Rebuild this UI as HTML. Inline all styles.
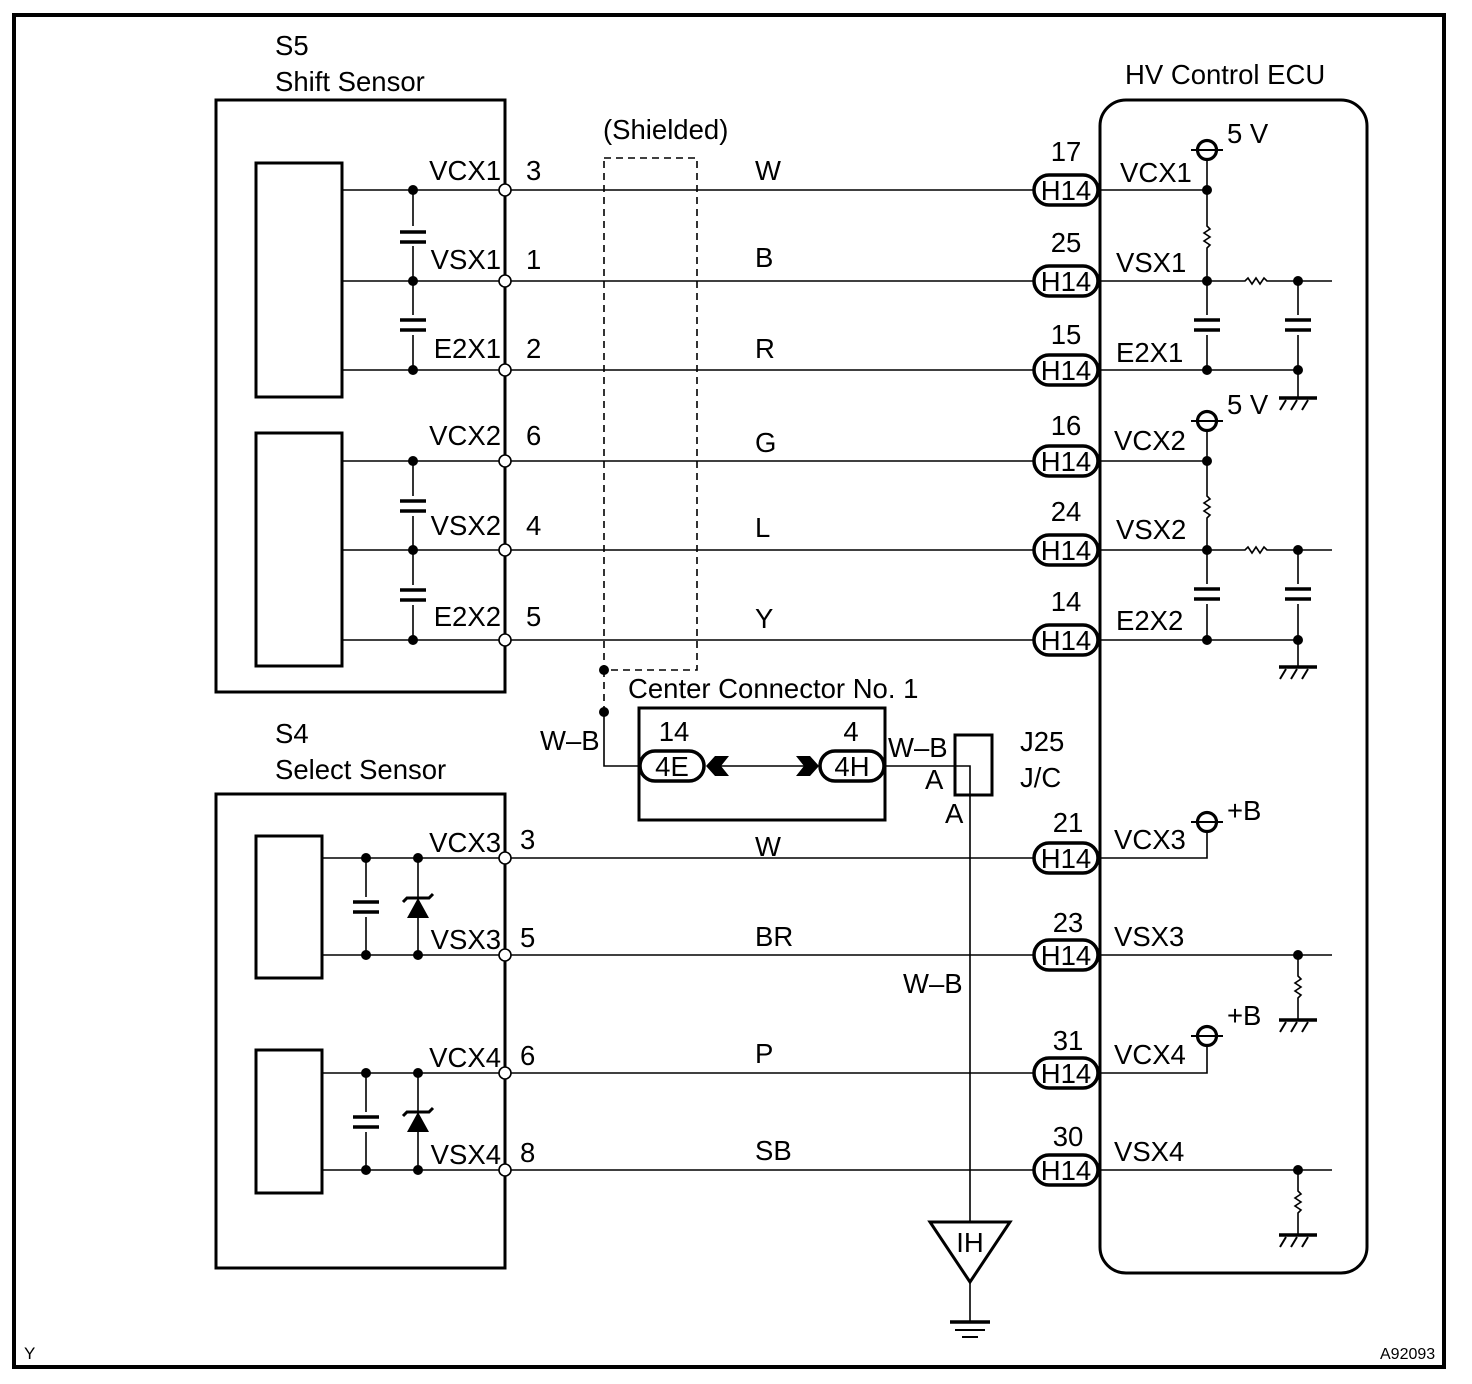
<!DOCTYPE html>
<html><head><meta charset="utf-8"><style>
html,body{margin:0;padding:0;background:#fff}
svg{display:block}
text{font-family:"Liberation Sans",Arial,sans-serif;font-size:27.5px;fill:#000}
</style></head><body>
<svg width="1472" height="1384" viewBox="0 0 1472 1384" xmlns="http://www.w3.org/2000/svg">
<defs>
<g id="pill"><rect x="-32" y="-15" width="64" height="30" rx="15" fill="#fff" stroke="#000" stroke-width="3.5"/></g>
<g id="capv" stroke="#000"><line x1="-13" y1="-5" x2="13" y2="-5" stroke-width="3.5"/><line x1="-13" y1="5" x2="13" y2="5" stroke-width="3.5"/></g>
<g id="gnd" stroke="#000" fill="none"><line x1="-19" y1="0" x2="19" y2="0" stroke-width="3.5"/><line x1="-12" y1="2" x2="-18" y2="12" stroke-width="2"/><line x1="-1" y1="2" x2="-7" y2="12" stroke-width="2"/><line x1="10" y1="2" x2="4" y2="12" stroke-width="2"/></g>
<g id="resv" fill="none" stroke="#000" stroke-width="1.6"><polyline points="0,-15 0,-11 3,-8 -3,-4 3,0 -3,4 3,8 0,11 0,15"/></g>
<g id="resh" fill="none" stroke="#000" stroke-width="1.6"><polyline points="-15,0 -10,0 -7,-3 -3,3 1,-3 5,3 9,-3 12,0 15,0"/></g>
<g id="src" fill="#fff" stroke="#000"><line x1="-16" y1="0" x2="16" y2="0" stroke-width="2"/><circle r="9.5" fill="none" stroke-width="3.2"/></g>
<g id="zen" stroke="#000"><polygon points="0,-10 -11,10 11,10" fill="#000" stroke="none"/><polyline points="-15,-6 -11,-10 11,-10 15,-14" fill="none" stroke-width="3"/></g>
</defs>

<rect x="14" y="15" width="1430" height="1352" fill="none" stroke="#000" stroke-width="4"/>

<rect x="216" y="100" width="289" height="592" fill="none" stroke="#000" stroke-width="3"/>
<rect x="256" y="163" width="86" height="234" fill="none" stroke="#000" stroke-width="3"/>
<rect x="256" y="433" width="86" height="233" fill="none" stroke="#000" stroke-width="3"/>
<rect x="216" y="794" width="289" height="474" fill="none" stroke="#000" stroke-width="3"/>
<rect x="256" y="836" width="66" height="142" fill="none" stroke="#000" stroke-width="3"/>
<rect x="256" y="1050" width="66" height="143" fill="none" stroke="#000" stroke-width="3"/>
<rect x="1100" y="100" width="267" height="1173" rx="26" fill="none" stroke="#000" stroke-width="3"/>

<g stroke="#000" stroke-width="1.6" fill="none">
<line x1="342" y1="190" x2="1033" y2="190"/>
<line x1="342" y1="281" x2="1033" y2="281"/>
<line x1="342" y1="370" x2="1033" y2="370"/>
<line x1="342" y1="461" x2="1033" y2="461"/>
<line x1="342" y1="550" x2="1033" y2="550"/>
<line x1="342" y1="640" x2="1033" y2="640"/>
<line x1="322" y1="858" x2="1033" y2="858"/>
<line x1="322" y1="955" x2="1033" y2="955"/>
<line x1="322" y1="1073" x2="1033" y2="1073"/>
<line x1="322" y1="1170" x2="1033" y2="1170"/>
<line x1="413" y1="190" x2="413" y2="370"/>
<line x1="413" y1="461" x2="413" y2="640"/>
<line x1="366" y1="858" x2="366" y2="955"/>
<line x1="418" y1="858" x2="418" y2="955"/>
<line x1="366" y1="1073" x2="366" y2="1170"/>
<line x1="418" y1="1073" x2="418" y2="1170"/>
<line x1="1100" y1="190" x2="1207" y2="190"/>
<line x1="1100" y1="281" x2="1332" y2="281"/>
<line x1="1100" y1="370" x2="1298" y2="370"/>
<line x1="1100" y1="461" x2="1207" y2="461"/>
<line x1="1100" y1="550" x2="1332" y2="550"/>
<line x1="1100" y1="640" x2="1298" y2="640"/>
<line x1="1207" y1="158" x2="1207" y2="370"/>
<line x1="1207" y1="429" x2="1207" y2="640"/>
<line x1="1298" y1="281" x2="1298" y2="398"/>
<line x1="1298" y1="550" x2="1298" y2="667"/>
<polyline points="1100,858 1207,858 1207,830"/>
<line x1="1100" y1="955" x2="1332" y2="955"/>
<line x1="1298" y1="955" x2="1298" y2="1020"/>
<polyline points="1100,1073 1207,1073 1207,1044"/>
<line x1="1100" y1="1170" x2="1332" y2="1170"/>
<line x1="1298" y1="1170" x2="1298" y2="1235"/>
<rect x="604" y="158" width="93" height="512" stroke-dasharray="7,5"/>
<line x1="604" y1="670" x2="604" y2="712" stroke-dasharray="7,5"/>
<polyline points="604,712 604,766 640,766"/>
<line x1="720" y1="766" x2="805" y2="766"/>
<polyline points="885,766 970,766 970,1222"/>
<line x1="970" y1="1282" x2="970" y2="1322"/>
</g>

<g fill="#fff" stroke="none">
<rect x="400" y="226" width="26" height="20"/><rect x="400" y="315" width="26" height="20"/>
<rect x="400" y="496" width="26" height="20"/><rect x="400" y="585" width="26" height="20"/>
<rect x="353" y="897" width="26" height="20"/><rect x="353" y="1112" width="26" height="20"/>
<rect x="1194" y="315" width="26" height="20"/><rect x="1285" y="315" width="26" height="20"/>
<rect x="1194" y="584" width="26" height="20"/><rect x="1285" y="584" width="26" height="20"/>
<rect x="1200" y="222" width="14" height="30"/><rect x="1200" y="492" width="14" height="30"/>
<rect x="1240" y="274" width="30" height="14"/><rect x="1240" y="543" width="30" height="14"/>
<rect x="1291" y="972" width="14" height="30"/><rect x="1291" y="1187" width="14" height="30"/>
</g>
<use href="#capv" x="413" y="237"/><use href="#capv" x="413" y="325"/>
<use href="#capv" x="413" y="506"/><use href="#capv" x="413" y="595"/>
<use href="#capv" x="366" y="907"/><use href="#capv" x="366" y="1122"/>
<use href="#zen" x="418" y="908"/><use href="#zen" x="418" y="1122"/>
<use href="#capv" x="1207" y="325"/><use href="#capv" x="1298" y="325"/>
<use href="#capv" x="1207" y="594"/><use href="#capv" x="1298" y="594"/>
<use href="#resv" x="1207" y="237"/><use href="#resv" x="1207" y="507"/>
<use href="#resh" x="1255" y="281"/><use href="#resh" x="1255" y="550"/>
<use href="#resv" x="1298" y="987"/><use href="#resv" x="1298" y="1202"/>
<use href="#gnd" x="1298" y="398"/><use href="#gnd" x="1298" y="667"/>
<use href="#gnd" x="1298" y="1020"/><use href="#gnd" x="1298" y="1235"/>
<use href="#src" x="1207" y="150"/><use href="#src" x="1207" y="421"/>
<use href="#src" x="1207" y="822"/><use href="#src" x="1207" y="1036"/>

<g fill="#000">
<circle cx="413" cy="190" r="5"/><circle cx="413" cy="281" r="5"/><circle cx="413" cy="370" r="5"/>
<circle cx="413" cy="461" r="5"/><circle cx="413" cy="550" r="5"/><circle cx="413" cy="640" r="5"/>
<circle cx="366" cy="858" r="5"/><circle cx="418" cy="858" r="5"/><circle cx="366" cy="955" r="5"/><circle cx="418" cy="955" r="5"/>
<circle cx="366" cy="1073" r="5"/><circle cx="418" cy="1073" r="5"/><circle cx="366" cy="1170" r="5"/><circle cx="418" cy="1170" r="5"/>
<circle cx="1207" cy="190" r="5"/><circle cx="1207" cy="281" r="5"/><circle cx="1207" cy="370" r="5"/>
<circle cx="1298" cy="281" r="5"/><circle cx="1298" cy="370" r="5"/>
<circle cx="1207" cy="461" r="5"/><circle cx="1207" cy="550" r="5"/><circle cx="1207" cy="640" r="5"/>
<circle cx="1298" cy="550" r="5"/><circle cx="1298" cy="640" r="5"/>
<circle cx="1298" cy="955" r="5"/><circle cx="1298" cy="1170" r="5"/>
<circle cx="604" cy="670" r="5"/><circle cx="604" cy="712" r="5"/>
</g>
<g fill="#fff" stroke="#000" stroke-width="1.6">
<circle cx="505" cy="190" r="6"/><circle cx="505" cy="281" r="6"/><circle cx="505" cy="370" r="6"/>
<circle cx="505" cy="461" r="6"/><circle cx="505" cy="550" r="6"/><circle cx="505" cy="640" r="6"/>
<circle cx="505" cy="858" r="6"/><circle cx="505" cy="955" r="6"/><circle cx="505" cy="1073" r="6"/><circle cx="505" cy="1170" r="6"/>
</g>
<use href="#pill" x="1066" y="190"/><use href="#pill" x="1066" y="281"/><use href="#pill" x="1066" y="370"/>
<use href="#pill" x="1066" y="461"/><use href="#pill" x="1066" y="550"/><use href="#pill" x="1066" y="640"/>
<use href="#pill" x="1066" y="858"/><use href="#pill" x="1066" y="955"/><use href="#pill" x="1066" y="1073"/><use href="#pill" x="1066" y="1170"/>

<rect x="639" y="708" width="246" height="112" fill="none" stroke="#000" stroke-width="3"/>
<use href="#pill" x="672" y="766"/><use href="#pill" x="852" y="766"/>
<polygon points="706,766 715,756 729,756 721,766 729,776 715,776" fill="#000"/>
<polygon points="819,766 810,756 796,756 804,766 796,776 810,776" fill="#000"/>
<rect x="955" y="735" width="37" height="60" fill="none" stroke="#000" stroke-width="3"/>
<polygon points="930,1222 1010,1222 970,1282" fill="#fff" stroke="#000" stroke-width="3"/>
<line x1="950" y1="1322" x2="990" y2="1322" stroke="#000" stroke-width="3.5"/>
<line x1="955" y1="1330" x2="985" y2="1330" stroke="#000" stroke-width="2"/>
<line x1="962" y1="1337" x2="978" y2="1337" stroke="#000" stroke-width="2"/>

<text x="275" y="55">S5</text>
<text x="275" y="91">Shift Sensor</text>
<text x="1125" y="84">HV Control ECU</text>
<text x="603" y="139">(Shielded)</text>
<text x="628" y="698">Center Connector No. 1</text>
<text x="275" y="743">S4</text>
<text x="275" y="779">Select Sensor</text>

<g text-anchor="end">
<text x="501" y="180">VCX1</text><text x="501" y="269">VSX1</text><text x="501" y="358">E2X1</text>
<text x="501" y="445">VCX2</text><text x="501" y="535">VSX2</text><text x="501" y="626">E2X2</text>
<text x="501" y="852">VCX3</text><text x="501" y="949">VSX3</text><text x="501" y="1067">VCX4</text><text x="501" y="1164">VSX4</text>
</g>
<text x="526" y="180">3</text><text x="526" y="269">1</text><text x="526" y="358">2</text>
<text x="526" y="445">6</text><text x="526" y="535">4</text><text x="526" y="626">5</text>
<text x="520" y="849">3</text><text x="520" y="947">5</text><text x="520" y="1065">6</text><text x="520" y="1162">8</text>

<text x="755" y="180">W</text><text x="755" y="267">B</text><text x="755" y="358">R</text>
<text x="755" y="452">G</text><text x="755" y="537">L</text><text x="755" y="628">Y</text>
<text x="755" y="856">W</text><text x="755" y="946">BR</text><text x="755" y="1063">P</text><text x="755" y="1160">SB</text>

<g text-anchor="middle">
<text x="1066" y="161">17</text><text x="1066" y="252">25</text><text x="1066" y="344">15</text>
<text x="1066" y="435">16</text><text x="1066" y="521">24</text><text x="1066" y="611">14</text>
<text x="1068" y="832">21</text><text x="1068" y="932">23</text><text x="1068" y="1050">31</text><text x="1068" y="1146">30</text>
<text x="1066" y="200">H14</text><text x="1066" y="291">H14</text><text x="1066" y="380">H14</text>
<text x="1066" y="471">H14</text><text x="1066" y="560">H14</text><text x="1066" y="650">H14</text>
<text x="1066" y="868">H14</text><text x="1066" y="965">H14</text><text x="1066" y="1083">H14</text><text x="1066" y="1180">H14</text>
<text x="672" y="776">4E</text><text x="852" y="776">4H</text>
<text x="674" y="741">14</text><text x="851" y="741">4</text>
<text x="970" y="1252">IH</text>
</g>

<text x="1120" y="182">VCX1</text><text x="1116" y="272">VSX1</text><text x="1116" y="362">E2X1</text>
<text x="1114" y="450">VCX2</text><text x="1116" y="539">VSX2</text><text x="1116" y="630">E2X2</text>
<text x="1114" y="849">VCX3</text><text x="1114" y="946">VSX3</text><text x="1114" y="1064">VCX4</text><text x="1114" y="1161">VSX4</text>
<text x="1227" y="143">5 V</text><text x="1227" y="414">5 V</text>
<text x="1227" y="820">+B</text><text x="1227" y="1025">+B</text>

<text x="540" y="750">W–B</text>
<text x="888" y="757">W–B</text>
<text x="925" y="789">A</text>
<text x="945" y="823">A</text>
<text x="1020" y="751">J25</text>
<text x="1020" y="787">J/C</text>
<text x="903" y="993">W–B</text>
<text x="24" y="1359" style="font-size:17px">Y</text>
<text x="1380" y="1359" style="font-size:16px">A92093</text>
</svg>
</body></html>
